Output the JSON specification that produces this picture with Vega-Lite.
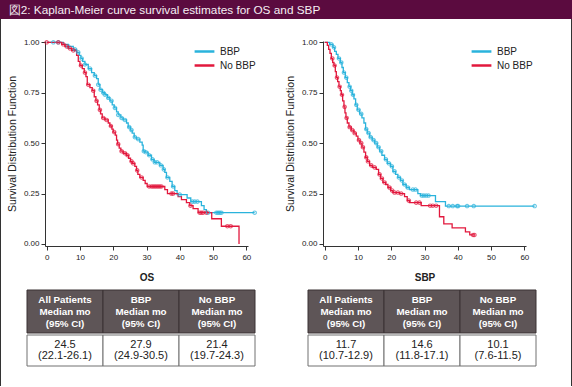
{
  "$schema": "https://vega.github.io/schema/vega-lite/v6.json",
  "padding": 0,
  "background": "white",
  "config": {
    "view": {"stroke": null},
    "font": "Liberation Sans",
    "axis": {"domainColor": "#333333", "tickColor": "#333333", "labelColor": "#222222", "titleColor": "#222222", "grid": false, "tickSize": 4, "labelFontSize": 8, "labelOverlap": false, "labelFont": "Liberation Sans", "titleFont": "Liberation Sans"},
    "legend": {"labelFont": "Liberation Sans"}
  },
  "datasets": {
    "os_curve": [
      {"g":"BBP","t":0,"s":1.0},{"g":"BBP","t":5,"s":0.99},{"g":"BBP","t":6.5,"s":0.98},{"g":"BBP","t":8,"s":0.965},{"g":"BBP","t":9,"s":0.95},{"g":"BBP","t":9.8,"s":0.935},{"g":"BBP","t":10.3,"s":0.92},{"g":"BBP","t":10.8,"s":0.905},{"g":"BBP","t":11.5,"s":0.89},{"g":"BBP","t":12.5,"s":0.87},{"g":"BBP","t":13.5,"s":0.85},{"g":"BBP","t":14.3,"s":0.835},{"g":"BBP","t":15,"s":0.82},{"g":"BBP","t":15.5,"s":0.79},{"g":"BBP","t":16,"s":0.765},{"g":"BBP","t":16.8,"s":0.75},{"g":"BBP","t":17.5,"s":0.74},{"g":"BBP","t":18.3,"s":0.725},{"g":"BBP","t":19,"s":0.71},{"g":"BBP","t":19.7,"s":0.69},{"g":"BBP","t":20.3,"s":0.675},{"g":"BBP","t":21,"s":0.655},{"g":"BBP","t":21.5,"s":0.64},{"g":"BBP","t":22.3,"s":0.625},{"g":"BBP","t":23,"s":0.615},{"g":"BBP","t":24,"s":0.6},{"g":"BBP","t":24.5,"s":0.58},{"g":"BBP","t":25.2,"s":0.565},{"g":"BBP","t":25.7,"s":0.55},{"g":"BBP","t":26.3,"s":0.53},{"g":"BBP","t":27,"s":0.52},{"g":"BBP","t":28,"s":0.505},{"g":"BBP","t":28.7,"s":0.49},{"g":"BBP","t":29,"s":0.46},{"g":"BBP","t":29.5,"s":0.455},{"g":"BBP","t":30.5,"s":0.44},{"g":"BBP","t":31.5,"s":0.42},{"g":"BBP","t":32.3,"s":0.405},{"g":"BBP","t":34,"s":0.39},{"g":"BBP","t":35,"s":0.37},{"g":"BBP","t":35.5,"s":0.355},{"g":"BBP","t":36,"s":0.33},{"g":"BBP","t":37,"s":0.31},{"g":"BBP","t":37.7,"s":0.285},{"g":"BBP","t":38.5,"s":0.265},{"g":"BBP","t":39.2,"s":0.245},{"g":"BBP","t":42.2,"s":0.228},{"g":"BBP","t":43.3,"s":0.21},{"g":"BBP","t":46.5,"s":0.19},{"g":"BBP","t":47.3,"s":0.17},{"g":"BBP","t":48,"s":0.155},{"g":"BBP","t":62.5,"s":0.155},
      {"g":"No BBP","t":0,"s":1.0},{"g":"No BBP","t":4.5,"s":0.99},{"g":"No BBP","t":5.5,"s":0.98},{"g":"No BBP","t":6.5,"s":0.97},{"g":"No BBP","t":7.5,"s":0.96},{"g":"No BBP","t":9,"s":0.935},{"g":"No BBP","t":9.5,"s":0.905},{"g":"No BBP","t":10,"s":0.885},{"g":"No BBP","t":10.7,"s":0.87},{"g":"No BBP","t":11.3,"s":0.85},{"g":"No BBP","t":11.8,"s":0.83},{"g":"No BBP","t":12.2,"s":0.79},{"g":"No BBP","t":13,"s":0.775},{"g":"No BBP","t":13.7,"s":0.76},{"g":"No BBP","t":14.3,"s":0.73},{"g":"No BBP","t":14.8,"s":0.71},{"g":"No BBP","t":15.3,"s":0.69},{"g":"No BBP","t":15.8,"s":0.665},{"g":"No BBP","t":16.2,"s":0.645},{"g":"No BBP","t":16.7,"s":0.625},{"g":"No BBP","t":17.5,"s":0.615},{"g":"No BBP","t":18.5,"s":0.6},{"g":"No BBP","t":19,"s":0.585},{"g":"No BBP","t":19.6,"s":0.57},{"g":"No BBP","t":20,"s":0.555},{"g":"No BBP","t":20.6,"s":0.54},{"g":"No BBP","t":21,"s":0.515},{"g":"No BBP","t":21.3,"s":0.495},{"g":"No BBP","t":21.8,"s":0.475},{"g":"No BBP","t":22.3,"s":0.46},{"g":"No BBP","t":23,"s":0.45},{"g":"No BBP","t":24,"s":0.44},{"g":"No BBP","t":24.6,"s":0.425},{"g":"No BBP","t":25.2,"s":0.41},{"g":"No BBP","t":25.7,"s":0.4},{"g":"No BBP","t":26.5,"s":0.385},{"g":"No BBP","t":27,"s":0.365},{"g":"No BBP","t":27.4,"s":0.345},{"g":"No BBP","t":28,"s":0.33},{"g":"No BBP","t":29,"s":0.315},{"g":"No BBP","t":29.6,"s":0.3},{"g":"No BBP","t":30.2,"s":0.285},{"g":"No BBP","t":35.5,"s":0.27},{"g":"No BBP","t":36.3,"s":0.25},{"g":"No BBP","t":39.5,"s":0.235},{"g":"No BBP","t":40.5,"s":0.22},{"g":"No BBP","t":42,"s":0.205},{"g":"No BBP","t":43,"s":0.19},{"g":"No BBP","t":44,"s":0.175},{"g":"No BBP","t":45.5,"s":0.155},{"g":"No BBP","t":49.6,"s":0.125},{"g":"No BBP","t":52.5,"s":0.088},{"g":"No BBP","t":57.8,"s":0.0}
    ],
    "os_cens": [
      {"g":"BBP","t":2,"s":1.0},{"g":"BBP","t":3.5,"s":1.0},{"g":"BBP","t":6.5,"s":0.98},{"g":"BBP","t":8.5,"s":0.965},{"g":"BBP","t":9.5,"s":0.95},{"g":"BBP","t":10.5,"s":0.92},{"g":"BBP","t":11.5,"s":0.89},{"g":"BBP","t":13,"s":0.87},{"g":"BBP","t":14.5,"s":0.835},{"g":"BBP","t":15.5,"s":0.79},{"g":"BBP","t":16.2,"s":0.765},{"g":"BBP","t":17,"s":0.75},{"g":"BBP","t":17.5,"s":0.74},{"g":"BBP","t":18.5,"s":0.725},{"g":"BBP","t":19.5,"s":0.71},{"g":"BBP","t":20.5,"s":0.675},{"g":"BBP","t":21.5,"s":0.64},{"g":"BBP","t":22.5,"s":0.625},{"g":"BBP","t":23.5,"s":0.615},{"g":"BBP","t":24.8,"s":0.58},{"g":"BBP","t":25.5,"s":0.565},{"g":"BBP","t":26.5,"s":0.53},{"g":"BBP","t":27.5,"s":0.52},{"g":"BBP","t":29.2,"s":0.46},{"g":"BBP","t":29.8,"s":0.455},{"g":"BBP","t":30.8,"s":0.44},{"g":"BBP","t":31.8,"s":0.42},{"g":"BBP","t":32.5,"s":0.405},{"g":"BBP","t":33.2,"s":0.405},{"g":"BBP","t":34.3,"s":0.39},{"g":"BBP","t":35.2,"s":0.37},{"g":"BBP","t":36.3,"s":0.33},{"g":"BBP","t":38,"s":0.285},{"g":"BBP","t":40,"s":0.245},{"g":"BBP","t":43.8,"s":0.21},{"g":"BBP","t":44.5,"s":0.21},{"g":"BBP","t":45.3,"s":0.21},{"g":"BBP","t":48.5,"s":0.155},{"g":"BBP","t":51,"s":0.155},{"g":"BBP","t":51.5,"s":0.155},{"g":"BBP","t":52,"s":0.155},{"g":"BBP","t":52.5,"s":0.155},{"g":"BBP","t":62.5,"s":0.155},
      {"g":"No BBP","t":0,"s":1.0},{"g":"No BBP","t":3.5,"s":1.0},{"g":"No BBP","t":5,"s":0.99},{"g":"No BBP","t":6,"s":0.98},{"g":"No BBP","t":7,"s":0.97},{"g":"No BBP","t":8,"s":0.96},{"g":"No BBP","t":10.3,"s":0.885},{"g":"No BBP","t":11.5,"s":0.85},{"g":"No BBP","t":12.5,"s":0.79},{"g":"No BBP","t":14,"s":0.76},{"g":"No BBP","t":15,"s":0.71},{"g":"No BBP","t":16,"s":0.665},{"g":"No BBP","t":17,"s":0.625},{"g":"No BBP","t":18,"s":0.615},{"g":"No BBP","t":19.3,"s":0.585},{"g":"No BBP","t":20.3,"s":0.555},{"g":"No BBP","t":21.5,"s":0.495},{"g":"No BBP","t":22.5,"s":0.46},{"g":"No BBP","t":23.5,"s":0.45},{"g":"No BBP","t":24.3,"s":0.44},{"g":"No BBP","t":25.5,"s":0.41},{"g":"No BBP","t":26,"s":0.4},{"g":"No BBP","t":27.2,"s":0.365},{"g":"No BBP","t":28.5,"s":0.33},{"g":"No BBP","t":30.8,"s":0.285},{"g":"No BBP","t":31.5,"s":0.285},{"g":"No BBP","t":32,"s":0.285},{"g":"No BBP","t":32.5,"s":0.285},{"g":"No BBP","t":33,"s":0.285},{"g":"No BBP","t":33.5,"s":0.285},{"g":"No BBP","t":34,"s":0.285},{"g":"No BBP","t":34.5,"s":0.285},{"g":"No BBP","t":37.5,"s":0.25},{"g":"No BBP","t":38,"s":0.25},{"g":"No BBP","t":43.2,"s":0.19},{"g":"No BBP","t":46,"s":0.155},{"g":"No BBP","t":46.5,"s":0.155},{"g":"No BBP","t":47,"s":0.155},{"g":"No BBP","t":48,"s":0.155},{"g":"No BBP","t":54.3,"s":0.088},{"g":"No BBP","t":55.3,"s":0.088}
    ],
    "sbp_curve": [
      {"g":"BBP","t":0,"s":1.0},{"g":"BBP","t":1.5,"s":0.99},{"g":"BBP","t":2.5,"s":0.975},{"g":"BBP","t":3,"s":0.955},{"g":"BBP","t":3.5,"s":0.94},{"g":"BBP","t":4,"s":0.92},{"g":"BBP","t":4.7,"s":0.9},{"g":"BBP","t":5.2,"s":0.875},{"g":"BBP","t":5.6,"s":0.85},{"g":"BBP","t":6.2,"s":0.825},{"g":"BBP","t":6.8,"s":0.8},{"g":"BBP","t":7.3,"s":0.78},{"g":"BBP","t":7.8,"s":0.76},{"g":"BBP","t":8.3,"s":0.74},{"g":"BBP","t":8.8,"s":0.72},{"g":"BBP","t":9.3,"s":0.69},{"g":"BBP","t":9.8,"s":0.665},{"g":"BBP","t":10.5,"s":0.645},{"g":"BBP","t":11.2,"s":0.625},{"g":"BBP","t":11.8,"s":0.6},{"g":"BBP","t":12.3,"s":0.57},{"g":"BBP","t":12.8,"s":0.55},{"g":"BBP","t":13.5,"s":0.53},{"g":"BBP","t":14.3,"s":0.515},{"g":"BBP","t":15,"s":0.5},{"g":"BBP","t":15.8,"s":0.48},{"g":"BBP","t":16.5,"s":0.46},{"g":"BBP","t":17.2,"s":0.44},{"g":"BBP","t":18,"s":0.42},{"g":"BBP","t":18.8,"s":0.4},{"g":"BBP","t":19.8,"s":0.385},{"g":"BBP","t":20.5,"s":0.36},{"g":"BBP","t":21.3,"s":0.345},{"g":"BBP","t":22,"s":0.33},{"g":"BBP","t":22.8,"s":0.315},{"g":"BBP","t":23.5,"s":0.295},{"g":"BBP","t":24.5,"s":0.28},{"g":"BBP","t":25.5,"s":0.27},{"g":"BBP","t":28,"s":0.25},{"g":"BBP","t":28.8,"s":0.24},{"g":"BBP","t":33.3,"s":0.21},{"g":"BBP","t":36.3,"s":0.188},{"g":"BBP","t":63.1,"s":0.188},
      {"g":"No BBP","t":0,"s":1.0},{"g":"No BBP","t":0.8,"s":0.985},{"g":"No BBP","t":1.2,"s":0.965},{"g":"No BBP","t":1.6,"s":0.945},{"g":"No BBP","t":2,"s":0.92},{"g":"No BBP","t":2.4,"s":0.9},{"g":"No BBP","t":2.8,"s":0.885},{"g":"No BBP","t":3.2,"s":0.855},{"g":"No BBP","t":3.5,"s":0.825},{"g":"No BBP","t":3.9,"s":0.805},{"g":"No BBP","t":4.3,"s":0.78},{"g":"No BBP","t":4.7,"s":0.76},{"g":"No BBP","t":5,"s":0.74},{"g":"No BBP","t":5.4,"s":0.71},{"g":"No BBP","t":5.8,"s":0.68},{"g":"No BBP","t":6.1,"s":0.65},{"g":"No BBP","t":6.4,"s":0.625},{"g":"No BBP","t":6.8,"s":0.6},{"g":"No BBP","t":7.3,"s":0.58},{"g":"No BBP","t":8,"s":0.565},{"g":"No BBP","t":8.8,"s":0.55},{"g":"No BBP","t":9.5,"s":0.535},{"g":"No BBP","t":10,"s":0.515},{"g":"No BBP","t":10.6,"s":0.5},{"g":"No BBP","t":11.2,"s":0.48},{"g":"No BBP","t":11.8,"s":0.455},{"g":"No BBP","t":12.3,"s":0.43},{"g":"No BBP","t":12.8,"s":0.41},{"g":"No BBP","t":13.5,"s":0.39},{"g":"No BBP","t":14.3,"s":0.38},{"g":"No BBP","t":15.5,"s":0.37},{"g":"No BBP","t":16.2,"s":0.345},{"g":"No BBP","t":16.8,"s":0.325},{"g":"No BBP","t":17.5,"s":0.305},{"g":"No BBP","t":18.3,"s":0.295},{"g":"No BBP","t":19,"s":0.28},{"g":"No BBP","t":19.8,"s":0.265},{"g":"No BBP","t":20.5,"s":0.255},{"g":"No BBP","t":22.5,"s":0.25},{"g":"No BBP","t":24,"s":0.235},{"g":"No BBP","t":24.8,"s":0.215},{"g":"No BBP","t":25.5,"s":0.205},{"g":"No BBP","t":29,"s":0.19},{"g":"No BBP","t":34.5,"s":0.135},{"g":"No BBP","t":35.8,"s":0.1},{"g":"No BBP","t":38.3,"s":0.08},{"g":"No BBP","t":42.3,"s":0.06},{"g":"No BBP","t":43.6,"s":0.045},{"g":"No BBP","t":45.1,"s":0.045}
    ],
    "sbp_cens": [
      {"g":"BBP","t":2,"s":0.99},{"g":"BBP","t":2.8,"s":0.975},{"g":"BBP","t":4.3,"s":0.92},{"g":"BBP","t":5,"s":0.9},{"g":"BBP","t":5.8,"s":0.85},{"g":"BBP","t":6.5,"s":0.825},{"g":"BBP","t":7.5,"s":0.78},{"g":"BBP","t":8,"s":0.76},{"g":"BBP","t":8.5,"s":0.74},{"g":"BBP","t":9.5,"s":0.69},{"g":"BBP","t":10.2,"s":0.665},{"g":"BBP","t":11,"s":0.645},{"g":"BBP","t":12.5,"s":0.57},{"g":"BBP","t":13.2,"s":0.55},{"g":"BBP","t":13.8,"s":0.53},{"g":"BBP","t":14.7,"s":0.515},{"g":"BBP","t":15.5,"s":0.5},{"g":"BBP","t":16.2,"s":0.48},{"g":"BBP","t":17,"s":0.46},{"g":"BBP","t":18.4,"s":0.42},{"g":"BBP","t":19.3,"s":0.4},{"g":"BBP","t":20.2,"s":0.385},{"g":"BBP","t":21,"s":0.36},{"g":"BBP","t":22.3,"s":0.33},{"g":"BBP","t":23.2,"s":0.315},{"g":"BBP","t":24,"s":0.295},{"g":"BBP","t":25,"s":0.28},{"g":"BBP","t":26.5,"s":0.27},{"g":"BBP","t":27.3,"s":0.27},{"g":"BBP","t":29.2,"s":0.24},{"g":"BBP","t":29.8,"s":0.24},{"g":"BBP","t":30.5,"s":0.24},{"g":"BBP","t":31.2,"s":0.24},{"g":"BBP","t":37.3,"s":0.188},{"g":"BBP","t":38.5,"s":0.188},{"g":"BBP","t":39.8,"s":0.188},{"g":"BBP","t":40.1,"s":0.188},{"g":"BBP","t":42.8,"s":0.188},{"g":"BBP","t":44.8,"s":0.188},{"g":"BBP","t":63.1,"s":0.188},
      {"g":"No BBP","t":2.3,"s":0.92},{"g":"No BBP","t":3,"s":0.885},{"g":"No BBP","t":3.7,"s":0.825},{"g":"No BBP","t":4.5,"s":0.78},{"g":"No BBP","t":5.2,"s":0.74},{"g":"No BBP","t":6,"s":0.68},{"g":"No BBP","t":6.6,"s":0.625},{"g":"No BBP","t":7.5,"s":0.58},{"g":"No BBP","t":8.3,"s":0.565},{"g":"No BBP","t":9,"s":0.55},{"g":"No BBP","t":10.3,"s":0.515},{"g":"No BBP","t":11,"s":0.5},{"g":"No BBP","t":11.5,"s":0.48},{"g":"No BBP","t":12.5,"s":0.43},{"g":"No BBP","t":13,"s":0.41},{"g":"No BBP","t":14,"s":0.39},{"g":"No BBP","t":15,"s":0.38},{"g":"No BBP","t":16.5,"s":0.345},{"g":"No BBP","t":17.2,"s":0.325},{"g":"No BBP","t":18,"s":0.305},{"g":"No BBP","t":19.5,"s":0.28},{"g":"No BBP","t":20.3,"s":0.265},{"g":"No BBP","t":21,"s":0.255},{"g":"No BBP","t":22,"s":0.255},{"g":"No BBP","t":23,"s":0.25},{"g":"No BBP","t":25.3,"s":0.215},{"g":"No BBP","t":27.5,"s":0.205},{"g":"No BBP","t":28.5,"s":0.205},{"g":"No BBP","t":31.7,"s":0.19},{"g":"No BBP","t":32.5,"s":0.19},{"g":"No BBP","t":33.5,"s":0.19},{"g":"No BBP","t":44.6,"s":0.045},{"g":"No BBP","t":45,"s":0.045}
    ],
    "os_head": [
      {"c":"A","label":"All Patients\nMedian mo\n(95% CI)"},
      {"c":"B","label":"BBP\nMedian mo\n(95% CI)"},
      {"c":"C","label":"No BBP\nMedian mo\n(95% CI)"}
    ],
    "os_body": [
      {"c":"A","label":"24.5\n(22.1-26.1)"},
      {"c":"B","label":"27.9\n(24.9-30.5)"},
      {"c":"C","label":"21.4\n(19.7-24.3)"}
    ],
    "sbp_head": [
      {"c":"A","label":"All Patients\nMedian mo\n(95% CI)"},
      {"c":"B","label":"BBP\nMedian mo\n(95% CI)"},
      {"c":"C","label":"No BBP\nMedian mo\n(95% CI)"}
    ],
    "sbp_body": [
      {"c":"A","label":"11.7\n(10.7-12.9)"},
      {"c":"B","label":"14.6\n(11.8-17.1)"},
      {"c":"C","label":"10.1\n(7.6-11.5)"}
    ],
    "title": [{"label": "図2: Kaplan-Meier curve survival estimates for OS and SBP"}],
    "none": []
  },
  "spacing": 0,
  "vconcat": [
    {
      "spacing": 0, "bounds": "flush",
      "hconcat": [
        {"width": 329, "height": 19, "data": {"name": "title"}, "mark": {"type": "text", "color": "#f5eef3", "fontSize": 11.8, "baseline": "middle"}, "encoding": {"text": {"field": "label"}}, "view": {"fill": "#5b0b3f"}},
        {"width": 243, "height": 19, "data": {"name": "none"}, "mark": "rect", "encoding": {}, "view": {"fill": "#5b0b3f"}}
      ]
    },
    {
      "spacing": 0,
      "hconcat": [
        {"width": 1, "height": 367, "data": {"name": "none"}, "mark": "rect", "encoding": {}, "view": {"fill": "#333333"}},
        {
          "spacing": 0,
          "vconcat": [
            {"width": 570, "height": 19, "data": {"name": "none"}, "mark": "rect", "encoding": {}},
            {
              "spacing": 0, "bounds": "flush",
              "resolve": {"scale": {"color": "independent", "stroke": "independent", "x": "independent", "y": "independent"}, "legend": {"color": "independent"}, "axis": {"x": "independent", "y": "independent"}},
              "hconcat": [
                {"width": 44, "height": 248, "data": {"name": "none"}, "mark": "rect", "encoding": {}},
                {
                  "width": 203, "height": 205,
                  "layer": [
                    {
                      "data": {"name": "os_curve"},
                      "mark": {"type": "line", "interpolate": "step-after", "strokeWidth": 1.3},
                      "encoding": {
                        "x": {"field": "t", "type": "quantitative", "scale": {"domain": [-0.5, 60.5], "nice": false, "zero": false}, "axis": {"values": [0,10,20,30,40,50,60], "tickCount": 12, "labelOverlap": false, "labelFlush": false, "title": "OS", "titleFontWeight": "bold", "titleFontSize": 10, "titlePadding": 11, "labelPadding": 3}},
                        "y": {"field": "s", "type": "quantitative", "scale": {"domain": [-0.01, 1.0065], "nice": false, "zero": false}, "axis": {"values": [0,0.25,0.5,0.75,1], "tickCount": 10, "labelOverlap": false, "format": ".2f", "title": "Survival Distribution Function", "titleFontSize": 10.5, "titleFontWeight": "normal", "titlePadding": 6, "labelPadding": 2}},
                        "color": {"field": "g", "type": "nominal", "scale": {"domain": ["BBP", "No BBP"], "range": ["#2ab3dc", "#e2183d"]}, "legend": {"orient": "none", "legendX": 151, "legendY": 2, "title": null, "symbolType": "M-1.4,0H1.4", "symbolStrokeWidth": 2.5, "symbolSize": 200, "labelFontSize": 10, "labelColor": "#222222", "labelOffset": 7, "rowPadding": 0}}
                      }
                    },
                    {
                      "data": {"name": "os_cens"},
                      "mark": {"type": "point", "shape": "circle", "filled": false, "size": 12, "strokeWidth": 1.1},
                      "encoding": {
                        "x": {"field": "t", "type": "quantitative"},
                        "y": {"field": "s", "type": "quantitative"},
                        "stroke": {"field": "g", "type": "nominal", "scale": {"domain": ["BBP", "No BBP"], "range": ["#2ab3dc", "#e2183d"]}, "legend": null}
                      }
                    }
                  ]
                },
                {"width": 75, "height": 248, "data": {"name": "none"}, "mark": "rect", "encoding": {}},
                {
                  "width": 203, "height": 205,
                  "layer": [
                    {
                      "data": {"name": "sbp_curve"},
                      "mark": {"type": "line", "interpolate": "step-after", "strokeWidth": 1.3},
                      "encoding": {
                        "x": {"field": "t", "type": "quantitative", "scale": {"domain": [-0.5, 60.5], "nice": false, "zero": false}, "axis": {"values": [0,10,20,30,40,50,60], "tickCount": 12, "labelOverlap": false, "labelFlush": false, "title": "SBP", "titleFontWeight": "bold", "titleFontSize": 10, "titlePadding": 11, "labelPadding": 3}},
                        "y": {"field": "s", "type": "quantitative", "scale": {"domain": [-0.01, 1.0065], "nice": false, "zero": false}, "axis": {"values": [0,0.25,0.5,0.75,1], "tickCount": 10, "labelOverlap": false, "format": ".2f", "title": "Survival Distribution Function", "titleFontSize": 10.5, "titleFontWeight": "normal", "titlePadding": 6, "labelPadding": 2}},
                        "color": {"field": "g", "type": "nominal", "scale": {"domain": ["BBP", "No BBP"], "range": ["#2ab3dc", "#e2183d"]}, "legend": {"orient": "none", "legendX": 150, "legendY": 2, "title": null, "symbolType": "M-1.4,0H1.4", "symbolStrokeWidth": 2.5, "symbolSize": 200, "labelFontSize": 10, "labelColor": "#222222", "labelOffset": 7, "rowPadding": 0}}
                      }
                    },
                    {
                      "data": {"name": "sbp_cens"},
                      "mark": {"type": "point", "shape": "circle", "filled": false, "size": 12, "strokeWidth": 1.1},
                      "encoding": {
                        "x": {"field": "t", "type": "quantitative"},
                        "y": {"field": "s", "type": "quantitative"},
                        "stroke": {"field": "g", "type": "nominal", "scale": {"domain": ["BBP", "No BBP"], "range": ["#2ab3dc", "#e2183d"]}, "legend": null}
                      }
                    }
                  ]
                },
                {"width": 45, "height": 248, "data": {"name": "none"}, "mark": "rect", "encoding": {}}
              ]
            },
            {
              "spacing": 0, "bounds": "flush",
              "hconcat": [
                {"width": 26, "height": 43, "data": {"name": "none"}, "mark": "rect", "encoding": {}},
                {
                  "width": 228, "height": 43, "data": {"name": "os_head"},
                  "layer": [
                    {"mark": {"type": "rect", "fill": "#5e5557", "stroke": "#3a3234", "strokeWidth": 1}, "encoding": {"x": {"field": "c", "type": "nominal", "sort": null, "axis": null, "scale": {"paddingInner": 0, "paddingOuter": 0}}}},
                    {"mark": {"type": "text", "color": "#ffffff", "fontWeight": "bold", "fontSize": 9.8, "lineBreak": "\n", "lineHeight": 11.7, "baseline": "middle", "dy": -11.3}, "encoding": {"x": {"field": "c", "type": "nominal", "sort": null, "axis": null}, "text": {"field": "label"}}}
                  ]
                },
                {"width": 53, "height": 43, "data": {"name": "none"}, "mark": "rect", "encoding": {}},
                {
                  "width": 228, "height": 43, "data": {"name": "sbp_head"},
                  "layer": [
                    {"mark": {"type": "rect", "fill": "#5e5557", "stroke": "#3a3234", "strokeWidth": 1}, "encoding": {"x": {"field": "c", "type": "nominal", "sort": null, "axis": null, "scale": {"paddingInner": 0, "paddingOuter": 0}}}},
                    {"mark": {"type": "text", "color": "#ffffff", "fontWeight": "bold", "fontSize": 9.8, "lineBreak": "\n", "lineHeight": 11.7, "baseline": "middle", "dy": -11.3}, "encoding": {"x": {"field": "c", "type": "nominal", "sort": null, "axis": null}, "text": {"field": "label"}}}
                  ]
                },
                {"width": 35, "height": 43, "data": {"name": "none"}, "mark": "rect", "encoding": {}}
              ]
            },
            {
              "spacing": 0, "bounds": "flush",
              "hconcat": [
                {"width": 26, "height": 31, "data": {"name": "none"}, "mark": "rect", "encoding": {}},
                {
                  "width": 228, "height": 31, "data": {"name": "os_body"},
                  "layer": [
                    {"mark": {"type": "rect", "fill": "#ffffff", "stroke": "#707070", "strokeWidth": 1}, "encoding": {"x": {"field": "c", "type": "nominal", "sort": null, "axis": null, "scale": {"paddingInner": 0, "paddingOuter": 0}}}},
                    {"mark": {"type": "text", "color": "#222222", "fontSize": 11, "lineBreak": "\n", "lineHeight": 11.7, "baseline": "middle", "dy": -5.8}, "encoding": {"x": {"field": "c", "type": "nominal", "sort": null, "axis": null}, "text": {"field": "label"}}}
                  ]
                },
                {"width": 53, "height": 31, "data": {"name": "none"}, "mark": "rect", "encoding": {}},
                {
                  "width": 228, "height": 31, "data": {"name": "sbp_body"},
                  "layer": [
                    {"mark": {"type": "rect", "fill": "#ffffff", "stroke": "#707070", "strokeWidth": 1}, "encoding": {"x": {"field": "c", "type": "nominal", "sort": null, "axis": null, "scale": {"paddingInner": 0, "paddingOuter": 0}}}},
                    {"mark": {"type": "text", "color": "#222222", "fontSize": 11, "lineBreak": "\n", "lineHeight": 11.7, "baseline": "middle", "dy": -5.8}, "encoding": {"x": {"field": "c", "type": "nominal", "sort": null, "axis": null}, "text": {"field": "label"}}}
                  ]
                },
                {"width": 35, "height": 31, "data": {"name": "none"}, "mark": "rect", "encoding": {}}
              ]
            },
            {"width": 570, "height": 23, "data": {"name": "none"}, "mark": "rect", "encoding": {}}
          ]
        },
        {"width": 1, "height": 367, "data": {"name": "none"}, "mark": "rect", "encoding": {}, "view": {"fill": "#333333"}}
      ]
    },
    {"width": 572, "height": 1, "data": {"name": "none"}, "mark": "rect", "encoding": {}, "view": {"fill": "#333333"}}
  ]
}
